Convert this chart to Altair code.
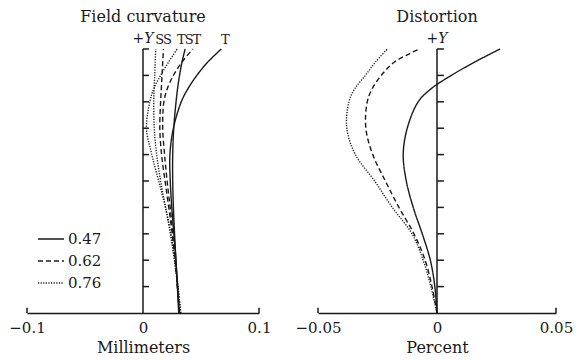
import altair as alt
import pandas as pd

FONT = "DejaVu Serif"
INK = "#1a1a1a"

# ---------------- data ----------------
fields = [0, 0.1, 0.2, 0.3, 0.4, 0.5, 0.6, 0.7, 0.8, 0.85, 0.9, 0.95, 1.0]
wavelengths = ["0.47", "0.62", "0.76"]
dashes = [[1, 0], [5, 3], [1.2, 1.4]]

# field curvature (mm), sagittal / tangential for each wavelength
fc_047_S = [0.0308, 0.0296, 0.0284, 0.0272, 0.0262, 0.0256, 0.0256, 0.0265, 0.0285, 0.0298, 0.0315, 0.0336, 0.0363]
fc_047_T = [0.0312, 0.0298, 0.0284, 0.0266, 0.0248, 0.0235, 0.0232, 0.0262, 0.0330, 0.0388, 0.0464, 0.0557, 0.0675]
fc_062_S = [0.0314, 0.0297, 0.0277, 0.0252, 0.0222, 0.0190, 0.0160, 0.0145, 0.0152, 0.0158, 0.0164, 0.0170, 0.0177]
fc_062_T = [0.0313, 0.0298, 0.0280, 0.0258, 0.0234, 0.0208, 0.0186, 0.0170, 0.0180, 0.0210, 0.0262, 0.0335, 0.0430]
fc_076_S = [0.0325, 0.0300, 0.0270, 0.0236, 0.0194, 0.0152, 0.0118, 0.0097, 0.0093, 0.0096, 0.0101, 0.0105, 0.0110]
fc_076_T = [0.0325, 0.0302, 0.0274, 0.0240, 0.0194, 0.0135, 0.0076, 0.0030, 0.0059, 0.0093, 0.0152, 0.0220, 0.0295]

# distortion (%)
dist_047 = [0, -0.0009, -0.0028, -0.0062, -0.0100, -0.0129, -0.0142, -0.0125, -0.0079, -0.0024, 0.0060, 0.0157, 0.0265]
dist_062 = [0, -0.0021, -0.0050, -0.0097, -0.0160, -0.0217, -0.0270, -0.0299, -0.0293, -0.0272, -0.0234, -0.0180, -0.0074]
dist_076 = [0, -0.0026, -0.0058, -0.0105, -0.0188, -0.0262, -0.0343, -0.0379, -0.0370, -0.0345, -0.0301, -0.0259, -0.0209]

fc_ticks = [-0.1, 0, 0.1]
fc_tick_labels = ["\u22120.1", "0", "0.1"]
dist_ticks = [-0.05, 0, 0.05]
dist_tick_labels = ["\u22120.05", "0", "0.05"]
y_ticks = [0.1, 0.2, 0.3, 0.4, 0.5, 0.6, 0.7, 0.8, 0.9, 1.0]

# ---------------- tables ----------------
fc_series = {
    ("0.47", "S"): fc_047_S, ("0.47", "T"): fc_047_T,
    ("0.62", "S"): fc_062_S, ("0.62", "T"): fc_062_T,
    ("0.76", "S"): fc_076_S, ("0.76", "T"): fc_076_T,
}
fc_rows = []
for (wl, kind), vals in fc_series.items():
    for f, v in zip(fields, vals):
        fc_rows.append({"wl": wl, "kind": kind, "key": wl + kind, "f": f, "value": v})
fc_df = pd.DataFrame(fc_rows)

dist_series = {"0.47": dist_047, "0.62": dist_062, "0.76": dist_076}
dist_rows = []
for wl, vals in dist_series.items():
    for f, v in zip(fields, vals):
        dist_rows.append({"wl": wl, "key": wl, "f": f, "value": v})
dist_df = pd.DataFrame(dist_rows)

# S/T labels at the top end of each field-curvature curve
top_df = fc_df[fc_df["f"] == 1.0].copy()
top_df["f"] = 1.034


def label_expr(ticks, labels):
    parts = []
    for t, l in zip(ticks, labels):
        parts.append(f"abs(datum.value - ({t})) < 1e-9 ? '{l}'")
    return " : ".join(parts) + " : ''"


def panel(df, ticks, tick_labels, title, xtitle, tick_len, with_labels, legend, width):
    lo, hi = ticks[0], ticks[-1]
    xenc = alt.X(
        "value:Q",
        scale=alt.Scale(domain=[lo, hi], nice=False, zero=False, padding=0),
        axis=alt.Axis(
            values=ticks, labelExpr=label_expr(ticks, tick_labels), title=xtitle,
            grid=False, ticks=False, domain=True, domainColor=INK, domainWidth=1.5,
            labelFlush=False, labelOverlap=False,
            labelFont=FONT, labelFontSize=15, labelColor=INK, labelPadding=7,
            titleFont=FONT, titleFontSize=16, titleFontWeight="normal", titleColor=INK,
            titlePadding=4,
        ),
    )
    yenc = alt.Y("f:Q", scale=alt.Scale(domain=[0, 1], nice=False, zero=False, padding=0), axis=None)

    lines = alt.Chart(df).mark_line(
        interpolate="catmull-rom", strokeWidth=1.4, color=INK
    ).encode(
        x=xenc, y=yenc, detail="key:N", order=alt.Order("f:Q"),
        strokeDash=alt.StrokeDash(
            "wl:N", scale=alt.Scale(domain=wavelengths, range=dashes), legend=legend
        ),
    )

    yaxis = alt.Chart(pd.DataFrame({"value": [0], "f": [0], "f2": [1]})).mark_rule(
        color=INK, strokeWidth=1.5
    ).encode(x=xenc, y=yenc, y2="f2:Q")

    ytk = alt.Chart(pd.DataFrame({"f": y_ticks, "value": 0, "v2": tick_len})).mark_rule(
        color=INK, strokeWidth=1.5
    ).encode(x=xenc, x2="v2:Q", y=yenc)

    xtk = alt.Chart(pd.DataFrame({"value": [lo, hi], "f": 0, "f2": 0.02})).mark_rule(
        color=INK, strokeWidth=1.5
    ).encode(x=xenc, y=yenc, y2="f2:Q")

    ttl = alt.Chart(pd.DataFrame({"value": [0], "f": [1.123], "t": [title]})).mark_text(
        font=FONT, fontSize=16, color=INK, baseline="middle"
    ).encode(x=xenc, y=yenc, text="t:N")

    plusy = alt.Chart(pd.DataFrame({"value": [0], "f": [1.036], "t": ["+Y"]})).mark_text(
        font=FONT, fontSize=14, fontStyle="italic", color=INK, baseline="middle"
    ).encode(x=xenc, y=yenc, text="t:N")

    layers = [lines, yaxis, ytk, xtk, ttl, plusy]
    if with_labels:
        st = alt.Chart(top_df).mark_text(
            font=FONT, fontSize=13, color=INK, baseline="middle", dx=4
        ).encode(x=xenc, y=yenc, text="kind:N")
        layers.append(st)
    return alt.layer(*layers).properties(width=width, height=264)


legend = alt.Legend(
    orient="none", legendX=10, legendY=176, title=None,
    symbolType="stroke", symbolSize=676, symbolStrokeWidth=1.4,
    symbolStrokeColor=INK, labelFont=FONT, labelFontSize=15, labelColor=INK,
    labelOffset=3, rowPadding=-5, padding=0,
)

left = panel(fc_df, fc_ticks, fc_tick_labels, "Field curvature", "Millimeters",
             0.0051, True, legend, 232)
right = panel(dist_df, dist_ticks, dist_tick_labels, "Distortion", "Percent",
              0.0029, False, None, 238)

chart = alt.hconcat(left, right, spacing=24).resolve_legend(
    strokeDash="independent"
).configure(padding=0, background="white").configure_view(stroke="transparent", strokeWidth=0)

chart.save("out.html", embed_options={"renderer": "svg", "actions": False})
